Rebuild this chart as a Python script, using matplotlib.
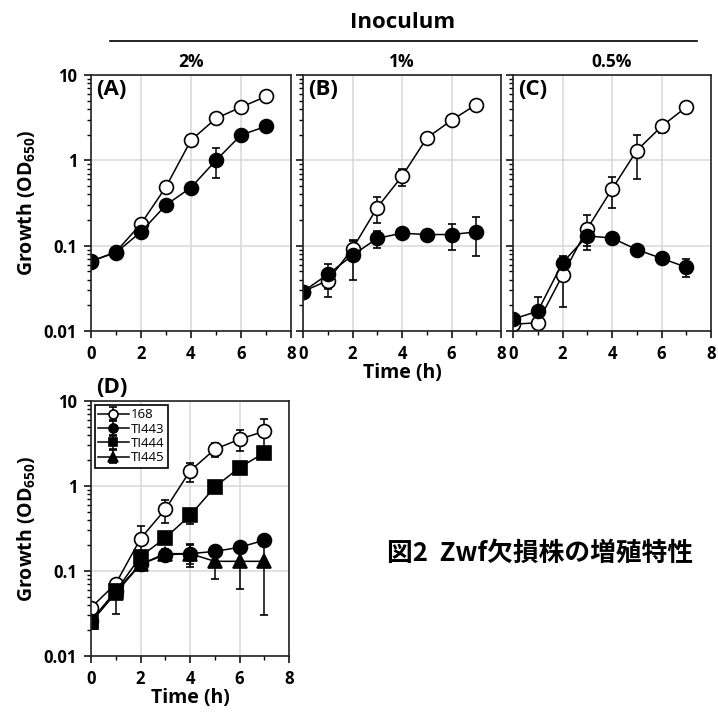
import numpy as np
import matplotlib
matplotlib.use("Agg")
import matplotlib.pyplot as plt
from matplotlib.ticker import LogLocator, NullFormatter, FixedLocator

plt.rcParams['font.family'] = ['Open Sans', 'DejaVu Sans']
plt.rcParams['mathtext.fontset'] = 'custom'
plt.rcParams['mathtext.rm'] = 'Open Sans'
plt.rcParams['mathtext.bf'] = 'Open Sans:bold'

# time points (h)
hours = [0, 1, 2, 3, 4, 5, 6, 7]

# (A) 2% inoculum
a_168 = [0.065, 0.085, 0.18, 0.49, 1.72, 3.1, 4.2, 5.6]
a_168_sd = [0.003, 0.004, 0.01, 0.03, 0.1, 0.15, 0.2, 0.3]
a_ti443 = [0.066, 0.083, 0.145, 0.30, 0.48, 1.0, 1.98, 2.5]
a_ti443_sd = [0.003, 0.004, 0.008, 0.02, 0.04, 0.38, 0.15, 0.15]

# (B) 1% inoculum
b_168 = [0.029, 0.039, 0.092, 0.28, 0.65, 1.82, 2.95, 4.5]
b_168_sd = [0.004, 0.014, 0.026, 0.095, 0.15, 0.15, 0.2, 0.3]
b_ti443 = [0.029, 0.046, 0.077, 0.122, 0.14, 0.135, 0.135, 0.145]
b_ti443_sd = [0.004, 0.015, 0.037, 0.027, 0.01, 0.015, 0.045, 0.07]

# (C) 0.5% inoculum
c_168 = [0.012, 0.0125, 0.045, 0.158, 0.46, 1.3, 2.5, 4.2]
c_168_sd = [0.0008, 0.0008, 0.026, 0.07, 0.18, 0.7, 0.4, 0.3]
c_ti443 = [0.0138, 0.017, 0.063, 0.13, 0.123, 0.09, 0.071, 0.056]
c_ti443_sd = [0.001, 0.008, 0.012, 0.03, 0.008, 0.005, 0.006, 0.013]

# (D) strains, 2% inoculum
d_168 = [0.037, 0.071, 0.24, 0.53, 1.5, 2.7, 3.55, 4.4]
d_168_sd = [0.004, 0.006, 0.1, 0.16, 0.38, 0.5, 1.0, 1.7]
d_ti443 = [0.026, 0.058, 0.12, 0.155, 0.16, 0.17, 0.19, 0.23]
d_ti443_sd = [0.003, 0.01, 0.01, 0.02, 0.05, 0.02, 0.02, 0.02]
d_ti444 = [0.025, 0.058, 0.148, 0.245, 0.45, 0.97, 1.65, 2.45]
d_ti444_sd = [0.004, 0.01, 0.02, 0.03, 0.09, 0.05, 0.1, 0.2]
d_ti445 = [0.025, 0.055, 0.12, 0.16, 0.16, 0.13, 0.13, 0.13]
d_ti445_sd = [0.004, 0.024, 0.01, 0.02, 0.04, 0.05, 0.068, 0.1]

strain_names = ['168', 'TI443', 'TI444', 'TI445']
inoculum_labels = ['2%', '1%', '0.5%']
panel_labels = ['(A)', '(B)', '(C)', '(D)']

W, H = 718, 712
fig = plt.figure(figsize=(W / 100, H / 100), dpi=100)


def ax_at(x0, y0, x1, y1):
    return fig.add_axes([x0 / W, 1 - y1 / H, (x1 - x0) / W, (y1 - y0) / H])


def series(ax, y, sd, marker, face, label=None, ms=10):
    y = np.array(y)
    sd = np.array(sd)
    lower = np.minimum(sd, y * 0.95)
    ax.errorbar(hours, y, yerr=[lower, sd], color='black', lw=1.1,
                elinewidth=1.1, capsize=3.2, capthick=1.1, marker=marker,
                ms=ms, mfc=face, mec='black', mew=1.2, label=label)


def style(ax, ylabels=True):
    ax.set_yscale('log')
    ax.set_ylim(0.01, 10)
    ax.set_xlim(0, 8)
    ax.xaxis.set_major_locator(FixedLocator([0, 2, 4, 6, 8]))
    ax.xaxis.set_minor_locator(FixedLocator([1, 3, 5, 7]))
    ax.yaxis.set_major_locator(LogLocator(base=10, numticks=10))
    ax.yaxis.set_minor_locator(LogLocator(base=10, subs=np.arange(2, 10), numticks=10))
    ax.yaxis.set_minor_formatter(NullFormatter())
    if ylabels:
        ax.set_yticks([0.01, 0.1, 1, 10])
        ax.set_yticklabels(['0.01', '0.1', '1', '10'])
    else:
        ax.set_yticklabels([])
    ax.grid(True, which='major', color='#d9d9d9', lw=1.1)
    ax.set_axisbelow(True)
    ax.tick_params(which='major', direction='out', length=5, width=1.1,
                   labelsize=12, pad=5)
    ax.tick_params(which='minor', direction='out', length=3, width=1.0)
    for lab in ax.get_xticklabels() + ax.get_yticklabels():
        lab.set_fontweight('bold')
    for sp in ax.spines.values():
        sp.set_color('#222222')
        sp.set_linewidth(1.2)


axA = ax_at(91, 75, 291, 331)
axB = ax_at(303, 75, 501, 331)
axC = ax_at(513, 75, 711, 331)
axD = ax_at(91, 401, 289, 656)

top_data = [(axA, a_168, a_168_sd, a_ti443, a_ti443_sd),
            (axB, b_168, b_168_sd, b_ti443, b_ti443_sd),
            (axC, c_168, c_168_sd, c_ti443, c_ti443_sd)]

for i, (ax, y1, s1, y2, s2) in enumerate(top_data):
    style(ax, ylabels=(i == 0))
    series(ax, y1, s1, 'o', 'white')
    series(ax, y2, s2, 'o', 'black')
    ax.text(0.025, 0.985, panel_labels[i], transform=ax.transAxes,
            fontsize=16, fontweight='bold', va='top', ha='left')
    ax.set_title(inoculum_labels[i], fontsize=12.5, fontweight='bold', pad=6)

axA.set_ylabel(r'Growth (OD$_\mathbf{650}$)', fontsize=14, fontweight='bold', labelpad=4)
axB.set_xlabel('Time (h)', fontsize=14, fontweight='bold', labelpad=0)

style(axD)
series(axD, d_168, d_168_sd, 'o', 'white', strain_names[0])
series(axD, d_ti445, d_ti445_sd, '^', 'black', strain_names[3])
series(axD, d_ti444, d_ti444_sd, 's', 'black', strain_names[2], ms=9.5)
series(axD, d_ti443, d_ti443_sd, 'o', 'black', strain_names[1])
handles, labels = axD.get_legend_handles_labels()
order = [labels.index(n) for n in strain_names]
leg = axD.legend([handles[k] for k in order], [labels[k] for k in order],
                 loc='upper left', fontsize=9.5, fancybox=False, framealpha=1,
                 edgecolor='black', markerscale=0.65, handlelength=2.3,
                 borderpad=0.25, labelspacing=0.1, handletextpad=0.15,
                 borderaxespad=0.3)
leg.get_frame().set_linewidth(1.2)
axD.text(0.025, 1.01, panel_labels[3], transform=axD.transAxes,
         fontsize=16, fontweight='bold', va='bottom', ha='left')
axD.set_ylabel(r'Growth (OD$_\mathbf{650}$)', fontsize=14, fontweight='bold', labelpad=4)
axD.set_xlabel('Time (h)', fontsize=14, fontweight='bold', labelpad=0)

# header
fig.text(403 / W, 1 - 22 / H, 'Inoculum', fontsize=16, fontweight='bold',
         ha='center', va='center')
fig.add_artist(plt.Line2D([110 / W, 697 / W], [1 - 41 / H, 1 - 41 / H],
                          color='black', lw=1.2))

fig.text(540 / W, 1 - 553 / H, '図2  Zwf欠損株の増殖特性', fontsize=18.5,
         fontweight='bold', ha='center', va='center',
         family=['Noto Sans CJK JP', 'DejaVu Sans'])

fig.savefig('out.png', dpi=100)
